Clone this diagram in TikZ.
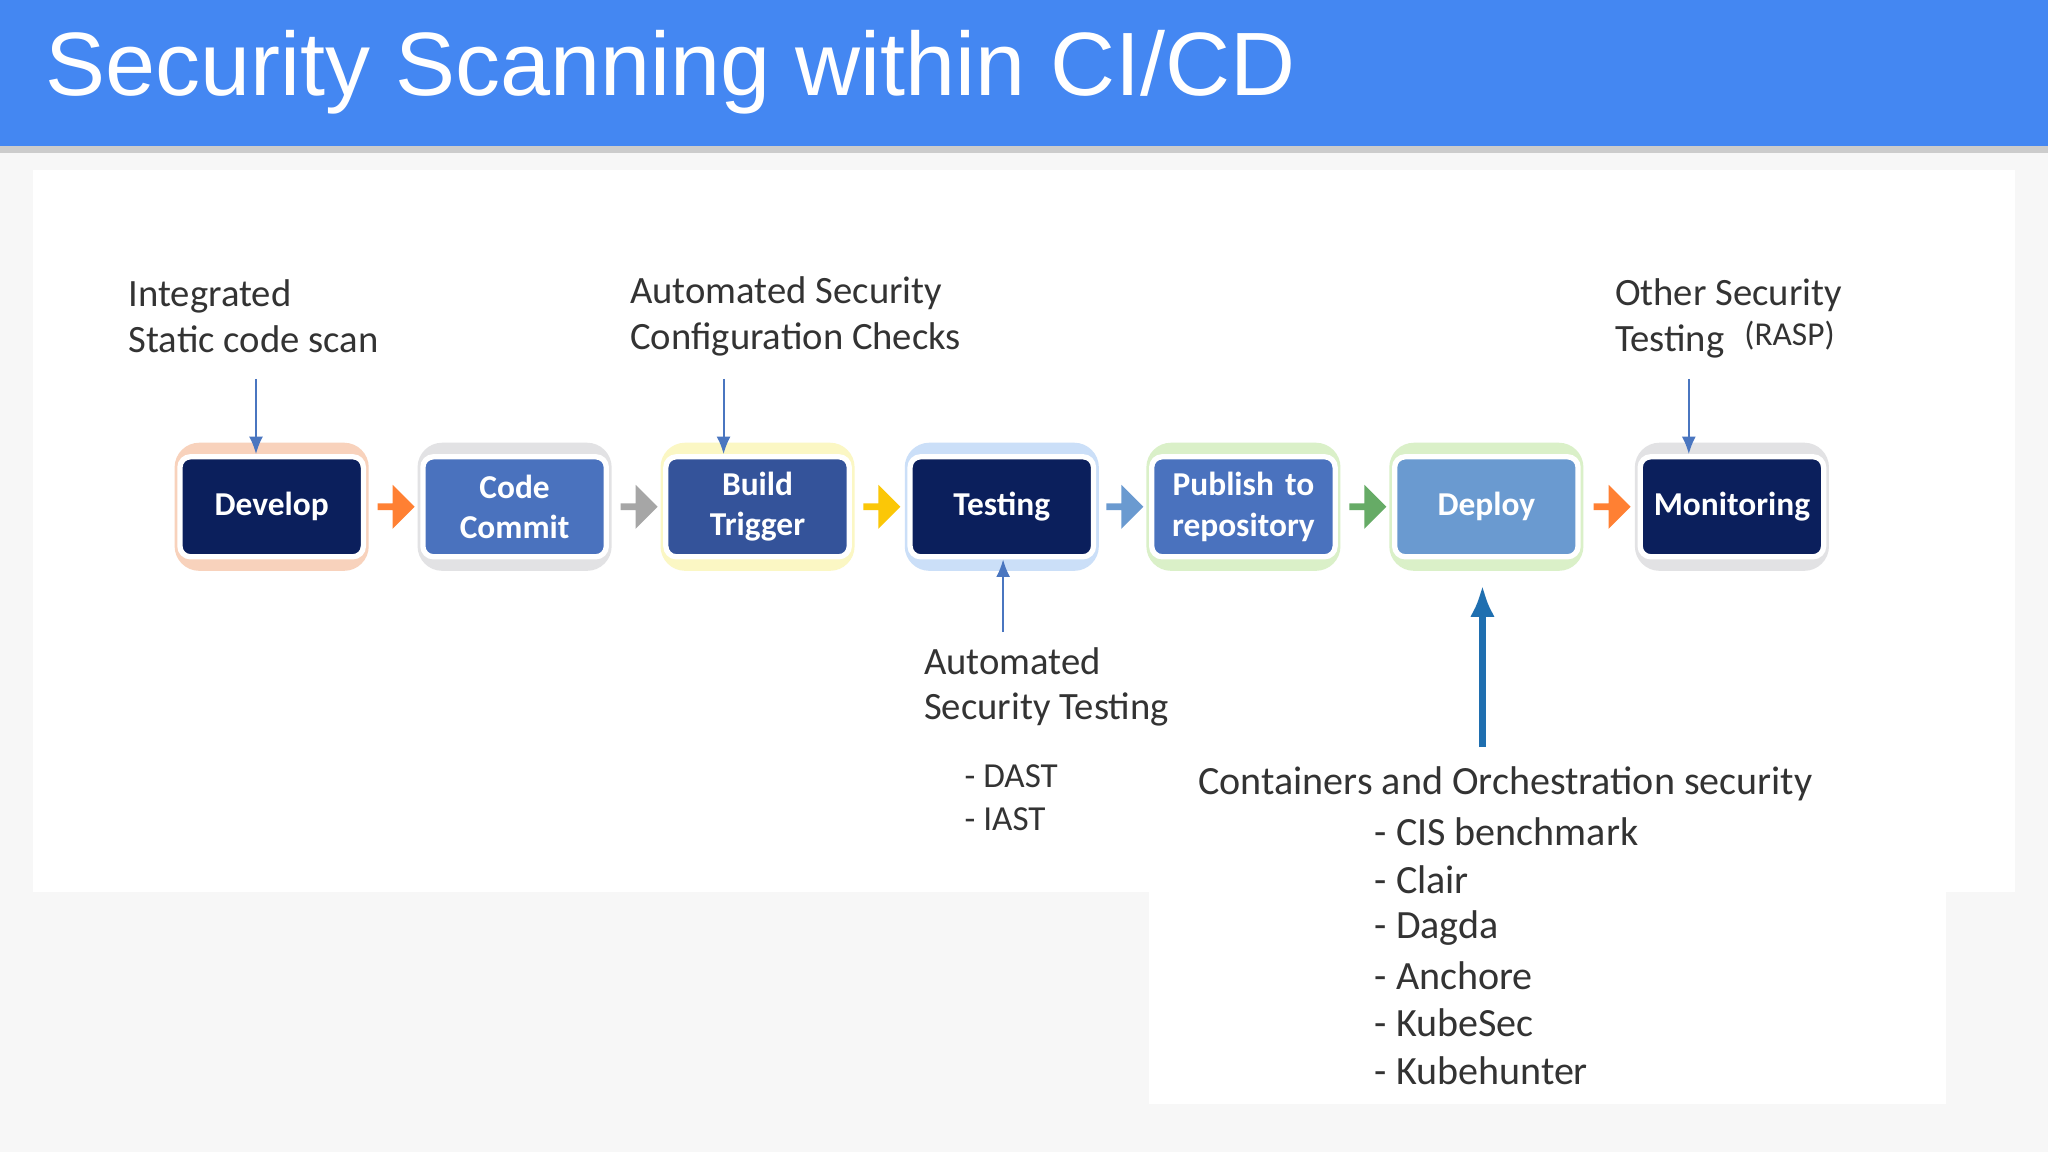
\documentclass[tikz,border=0pt]{standalone}
\usepackage{fontspec}
\setmainfont{Carlito}
\newfontfamily\titlefont{Liberation Sans}
\usetikzlibrary{shapes.arrows,positioning,arrows.meta}
\definecolor{navy}{HTML}{0B1F5C}
\definecolor{midblue}{HTML}{4A72BE}
\definecolor{darkblue}{HTML}{34539A}
\definecolor{skyblue}{HTML}{6A9AD0}
\definecolor{titleblue}{HTML}{4487F2}
\definecolor{pointer}{HTML}{4A76C0}
\definecolor{bigarrow}{HTML}{1F6FB0}
\definecolor{glowor}{HTML}{F8D2BC}
\definecolor{glowgr}{HTML}{E2E2E4}
\definecolor{glowye}{HTML}{FBF7C4}
\definecolor{glowbl}{HTML}{CBDFF8}
\definecolor{glowgn}{HTML}{DAF0C8}
\tikzset{
  stage/.style={draw=white, line width=1.5pt, rounded corners=3pt, minimum width=1.66cm,
    minimum height=1.0cm, text width=1.6cm, align=center, text=white,
    font=\bfseries\fontsize{9.5}{11.5}\selectfont},
  glow/.style={draw=#1, line width=4pt, rounded corners=5pt, minimum width=1.8cm, minimum height=1.14cm},
  step/.style={single arrow, fill=#1, draw=none, minimum height=0.37cm, minimum width=0.44cm,
    single arrow head extend=0.04cm, inner sep=0pt},
  label/.style={anchor=west, align=left, inner sep=0pt, text=black!80, font=\fontsize{11}{13}\selectfont},
  item/.style={anchor=west, inner sep=0pt, text=black!80, font=\fontsize{11.4}{13}\selectfont},
  pointer/.style={draw=pointer, line width=0.6pt, -{Latex[length=5pt,width=4pt]}}
}
\begin{document}
\begin{tikzpicture}[x=0.01306cm, y=-0.01306cm]
  % background and panels
  \fill[black!3] (0,0) rectangle (1568,882);
  \fill[white] (25,130) rectangle (1543,683);
  \fill[white] (880,683) rectangle (1490,845);
  \fill[black!20] (0,112) rectangle (1568,117);
  \fill[titleblue] (0,0) rectangle (1568,112);
  \node[anchor=west, inner sep=0pt, text=white, font=\titlefont\fontsize{25.6}{28}\selectfont] (title) at (34,55) {Security Scanning within CI/CD};

  % stages
  \foreach \x/\name/\txt/\col/\gl in {208/dev/Develop/navy/glowor, 394/commit/Code\\Commit/midblue/glowgr,
      580/build/Build\\Trigger/darkblue/glowye, 767/test/Testing/navy/glowbl,
      952/publish/Publish to\\repository/midblue/glowgn, 1138/deploy/Deploy/skyblue/glowgn,
      1326/monitor/Monitoring/navy/glowgr} {
    \node[glow=\gl] at (\x,388) {};
    \node[stage, fill=\col] (\name) at (\x,388) {\txt};
  }

  % step arrows
  \foreach \x/\col in {302/orange!75!red!80!white, 488/black!35, 674/yellow!60!orange,
      860/skyblue, 1046/green!45!black!60!white, 1233/orange!75!red!80!white} {
    \node[step=\col] at (\x,388) {};
  }

  % annotations
  \node[label] (static) at (98,242) {Integrated\\Static code scan};
  \node[label] (config) at (482,242) {Automated Security\\Configuration Checks};
  \node[label] (other) at (1236,244) {Other Security\\Testing};
  \node[anchor=west, inner sep=0pt, text=black!80, font=\fontsize{9.5}{11}\selectfont] (rasp) at (1335,257) {(RASP)};
  \node[label] (autotest) at (707,526) {Automated\\Security Testing};
  \node[item, font=\fontsize{10}{12}\selectfont] (dast) at (738,594) {- DAST};
  \node[item, font=\fontsize{10}{12}\selectfont] (iast) at (738,627) {- IAST};
  \node[item] (cont) at (917,600) {Containers and Orchestration security};
  \foreach \i/\t in {0/CIS benchmark, 1/Clair, 2/Dagda, 3/Anchore, 4/KubeSec, 5/Kubehunter} {
    \node[item] (tool\i) at (1052,637+36.6*\i) {- \t};
  }

  % pointers
  \coordinate (p1) at (196,290);
  \coordinate (p2) at (554,290);
  \coordinate (p3) at (1293,290);
  \coordinate (p4) at (768,484);
  \coordinate (p5) at (1135,572);
  \draw[pointer] (p1) -- (dev.north -| p1);
  \draw[pointer] (p2) -- (build.north -| p2);
  \draw[pointer] (p3) -- (monitor.north -| p3);
  \draw[pointer] (p4) -- (test.south -| p4);
  \draw[draw=bigarrow, line width=2pt, -{Latex[length=9pt,width=7pt]}] (p5) -- ++(0,-124);
\end{tikzpicture}
\end{document}
